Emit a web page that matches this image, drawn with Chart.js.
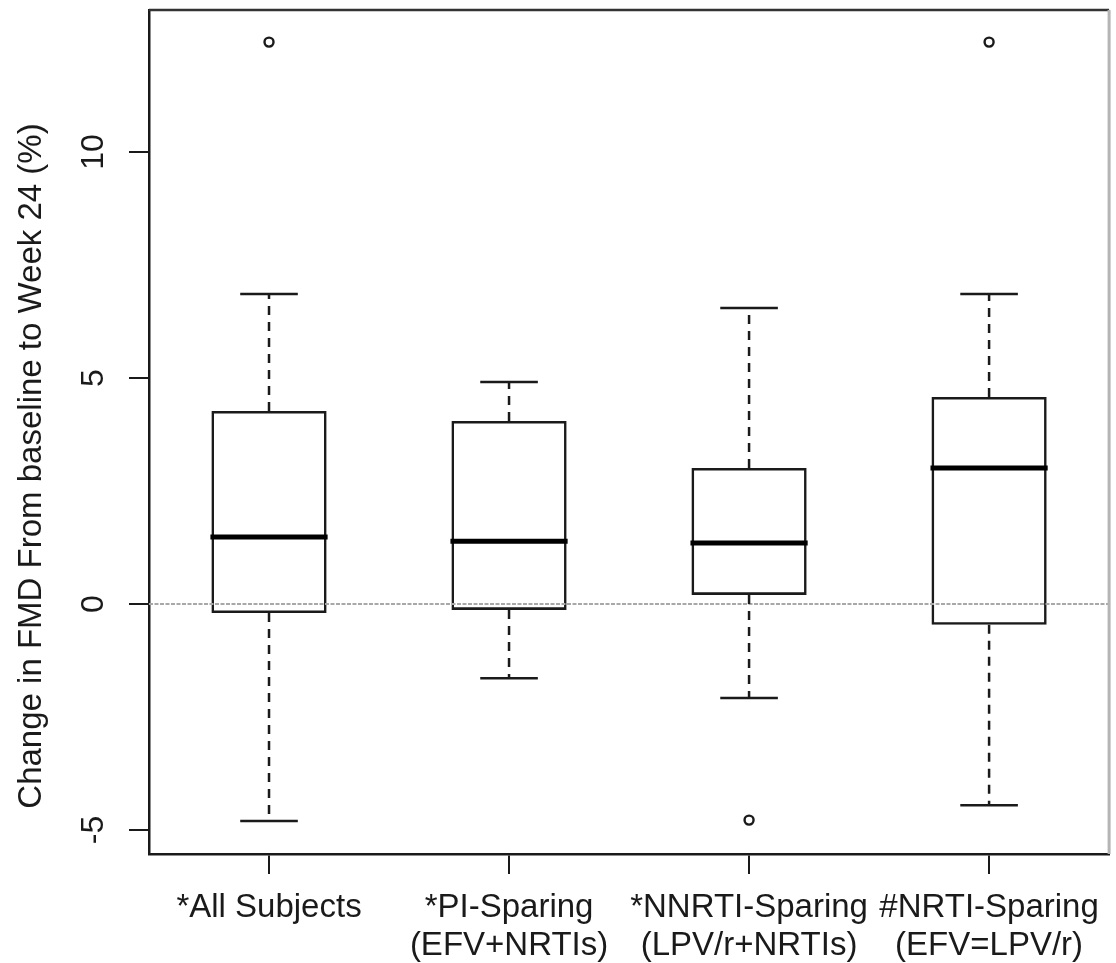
<!DOCTYPE html>
<html>
<head>
<meta charset="utf-8">
<script src="https://cdn.jsdelivr.net/npm/chart.js@4.4.1/dist/chart.umd.min.js"></script>
<style>
    body { margin: 0; background: #fff; }
    canvas { display: block; }
</style>
</head>
<body>
<canvas id="myChart" width="1116" height="963"></canvas>
<script>
// Box plot data
const categories = [
    ['*All Subjects'],
    ['*PI-Sparing', '(EFV+NRTIs)'],
    ['*NNRTI-Sparing', '(LPV/r+NRTIs)'],
    ['#NRTI-Sparing', '(EFV=LPV/r)']
];
const whiskerLow = [-4.80, -1.64, -2.08, -4.45];
const q1 = [-0.20, -0.13, 0.20, -0.46];
const median = [1.48, 1.39, 1.35, 3.01];
const q3 = [4.27, 4.05, 3.01, 4.58];
const whiskerHigh = [6.86, 4.91, 6.55, 6.86];
const outliersHigh = [12.43, null, null, 12.43];
const outliersLow = [null, null, -4.78, null];
const yTicks = [-5, 0, 5, 10];
const yTitle = 'Change in FMD From baseline to Week 24 (%)';

const fontFamily = '"Liberation Sans", Arial, Helvetica, sans-serif';
const ink = '#1a1a1a';

// Whiskers, caps, medians and the dotted zero line
const boxPlotLines = {
    id: 'boxPlotLines',
    afterDatasetsDraw(chart) {
        const { ctx, chartArea, scales: { x, y } } = chart;
        const meta = chart.getDatasetMeta(0);
        ctx.save();

        // abline(h = 0) style reference line
        ctx.strokeStyle = '#a8a8a8';
        ctx.lineWidth = 2;
        ctx.setLineDash([4, 1.5]);
        ctx.beginPath();
        ctx.moveTo(chartArea.left, y.getPixelForValue(0));
        ctx.lineTo(chartArea.right, y.getPixelForValue(0));
        ctx.stroke();

        ctx.strokeStyle = ink;
        meta.data.forEach((bar, i) => {
            const cx = x.getPixelForValue(i);
            const half = bar.getProps(['width']).width / 2;

            // dashed whiskers
            ctx.setLineDash([9, 7]);
            ctx.lineWidth = 2.5;
            ctx.beginPath();
            ctx.moveTo(cx, y.getPixelForValue(q3[i]));
            ctx.lineTo(cx, y.getPixelForValue(whiskerHigh[i]));
            ctx.moveTo(cx, y.getPixelForValue(q1[i]));
            ctx.lineTo(cx, y.getPixelForValue(whiskerLow[i]));
            ctx.stroke();

            // staples
            ctx.setLineDash([]);
            ctx.beginPath();
            ctx.moveTo(cx - half / 2, y.getPixelForValue(whiskerHigh[i]));
            ctx.lineTo(cx + half / 2, y.getPixelForValue(whiskerHigh[i]));
            ctx.moveTo(cx - half / 2, y.getPixelForValue(whiskerLow[i]));
            ctx.lineTo(cx + half / 2, y.getPixelForValue(whiskerLow[i]));
            ctx.stroke();

            // median
            ctx.lineWidth = 5;
            ctx.strokeStyle = '#000';
            ctx.beginPath();
            ctx.moveTo(cx - half - 1, y.getPixelForValue(median[i]));
            ctx.lineTo(cx + half + 1, y.getPixelForValue(median[i]));
            ctx.stroke();
            ctx.strokeStyle = ink;
        });
        ctx.restore();
    }
};

// Frame (top / right), rotated y tick labels and y title
const frameAndLabels = {
    id: 'frameAndLabels',
    afterDraw(chart) {
        const { ctx, chartArea, scales: { y } } = chart;
        ctx.save();
        ctx.lineWidth = 2.5;
        ctx.strokeStyle = '#333';
        ctx.beginPath();
        ctx.moveTo(chartArea.left, chartArea.top);
        ctx.lineTo(chartArea.right, chartArea.top);
        ctx.stroke();
        ctx.strokeStyle = '#b4b4b4';
        ctx.lineWidth = 3;
        ctx.beginPath();
        ctx.moveTo(chartArea.right, chartArea.top);
        ctx.lineTo(chartArea.right, chartArea.bottom);
        ctx.stroke();

        ctx.fillStyle = ink;
        ctx.textAlign = 'center';
        ctx.textBaseline = 'middle';
        ctx.font = '32px ' + fontFamily;
        yTicks.forEach(v => {
            ctx.save();
            ctx.translate(94, y.getPixelForValue(v));
            ctx.rotate(-Math.PI / 2);
            ctx.fillText(String(v), 0, 0);
            ctx.restore();
        });

        ctx.font = '33px ' + fontFamily;
        ctx.translate(32, 466);
        ctx.rotate(-Math.PI / 2);
        ctx.fillText(yTitle, 0, 0);
        ctx.restore();
    }
};

const ctx = document.getElementById('myChart').getContext('2d');
const myChart = new Chart(ctx, {
    type: 'bar',
    data: {
        labels: categories,
        datasets: [
            {
                label: 'IQR',
                data: q1.map((v, i) => [v, q3[i]]),
                backgroundColor: 'rgba(255,255,255,0)',
                borderColor: ink,
                borderWidth: 2.6,
                borderSkipped: false,
                barPercentage: 0.48,
                categoryPercentage: 1
            },
            {
                type: 'line',
                label: 'Outliers high',
                data: outliersHigh,
                showLine: false,
                pointRadius: 4.5,
                pointBorderWidth: 2.4,
                pointBorderColor: ink,
                pointBackgroundColor: '#fff'
            },
            {
                type: 'line',
                label: 'Outliers low',
                data: outliersLow,
                showLine: false,
                pointRadius: 4.5,
                pointBorderWidth: 2.4,
                pointBorderColor: ink,
                pointBackgroundColor: '#fff'
            }
        ]
    },
    options: {
        responsive: false,
        animation: false,
        layout: { padding: { left: 129, top: 10, right: 6, bottom: 0 } },
        plugins: {
            legend: { display: false },
            tooltip: { enabled: false }
        },
        scales: {
            x: {
                afterFit: scale => {
                    scale.height = 109;
                },
                grid: {
                    offset: false,
                    drawOnChartArea: false,
                    drawTicks: true,
                    tickLength: 20,
                    color: ink,
                    lineWidth: 2
                },
                border: { display: true, color: ink, width: 2.5 },
                ticks: {
                    color: ink,
                    padding: 15,
                    maxRotation: 0,
                    autoSkip: false,
                    font: { family: fontFamily, size: 33, lineHeight: 1.15 }
                }
            },
            y: {
                min: -5.53,
                max: 13.14,
                afterBuildTicks: scale => {
                    scale.ticks = yTicks.map(v => ({ value: v }));
                },
                grid: {
                    drawOnChartArea: false,
                    drawTicks: true,
                    tickLength: 20,
                    color: ink,
                    lineWidth: 2
                },
                border: { display: true, color: ink, width: 2.5 },
                ticks: { display: false }
            }
        }
    },
    plugins: [boxPlotLines, frameAndLabels]
});
</script>
</body>
</html>
